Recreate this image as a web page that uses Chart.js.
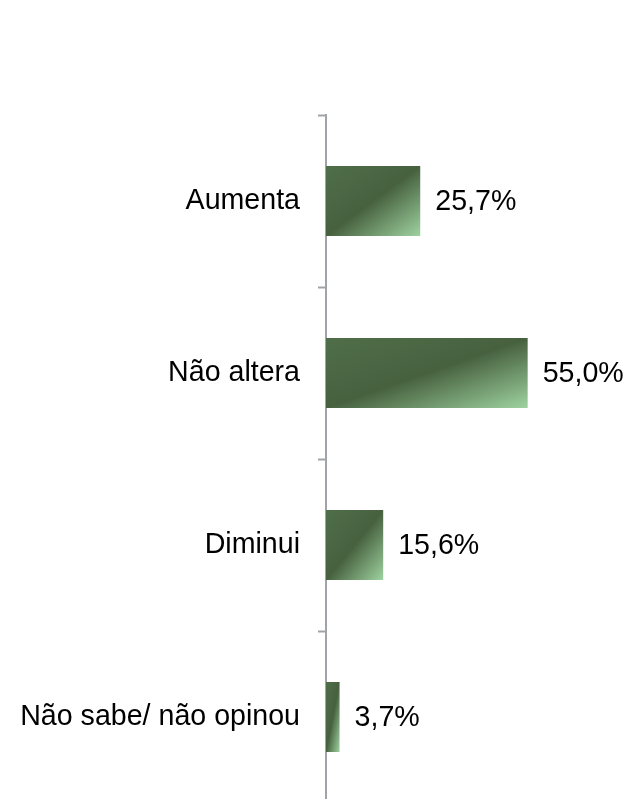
<!DOCTYPE html>
<html>
<head>
<meta charset="utf-8">
<script src="https://cdn.jsdelivr.net/npm/chart.js@4"></script>
<style>
  html, body { margin: 0; padding: 0; background: #fff; overflow: hidden; }
  #wrap { width: 628px; height: 803px; position: relative; }
</style>
</head>
<body>
<div id="wrap"><canvas id="opinionChart"></canvas></div>
<script>
const categories = ["Aumenta", "Não altera", "Diminui", "Não sabe/ não opinou"];
const percentages = [25.7, 55.0, 15.6, 3.7];
const xMin = 0;
const xMax = 60;

const FONT = "'Liberation Sans', Arial, sans-serif";
const BAR_PCT = 0.407;

// gradiente diagonal como no Excel (escuro em cima/esquerda, claro no canto inferior direito)
function barGradient(context) {
    const chart = context.chart;
    const xs = chart.scales.x, ys = chart.scales.y;
    if (!xs || !ys || !chart.chartArea) return "#4a6642";
    const i = context.dataIndex;
    const x0 = xs.getPixelForValue(0);
    const x1 = xs.getPixelForValue(percentages[i]);
    const h = ys.height / categories.length * BAR_PCT;
    const top = ys.getPixelForValue(i) - h / 2;
    const w = Math.max(x1 - x0, 1);
    const k = 2 * w * h / (w * w + h * h);
    const g = chart.ctx.createLinearGradient(x0, top, x0 + h * k, top + w * k);
    g.addColorStop(0, "#506e4a");
    g.addColorStop(0.5, "#47613f");
    g.addColorStop(1, "#9ed2a0");
    return g;
}

const valueLabels = {
    id: "valueLabels",
    afterDatasetsDraw(chart) {
        const ctx = chart.ctx;
        const meta = chart.getDatasetMeta(0);
        ctx.save();
        ctx.font = "28.6px " + FONT;
        ctx.fillStyle = "#000";
        ctx.textAlign = "left";
        ctx.textBaseline = "middle";
        meta.data.forEach(function(bar, i) {
            const txt = percentages[i].toFixed(1).replace(".", ",") + "%";
            ctx.fillText(txt, bar.x + 15, bar.y + 1);
        });
        ctx.restore();
    }
};

new Chart(document.getElementById("opinionChart"), {
    type: "bar",
    data: {
        labels: categories,
        datasets: [{
            data: percentages,
            backgroundColor: barGradient,
            borderWidth: 0,
            categoryPercentage: 1,
            barPercentage: BAR_PCT
        }]
    },
    plugins: [valueLabels],
    options: {
        indexAxis: "y",
        responsive: true,
        maintainAspectRatio: false,
        animation: false,
        layout: { padding: { top: 115, right: 82, bottom: 0, left: 0 } },
        plugins: {
            legend: { display: false },
            tooltip: { enabled: false }
        },
        scales: {
            x: { display: false, min: xMin, max: xMax },
            y: {
                afterFit(scale) {
                    scale.width = 326;
                    scale.paddingTop = 0;
                    scale.paddingBottom = 0;
                },
                grid: {
                    drawOnChartArea: false,
                    drawTicks: true,
                    tickLength: 8,
                    tickWidth: 2,
                    color: "#a0a4a8"
                },
                border: { display: true, color: "#a0a4a8", width: 2 },
                ticks: {
                    padding: 18,
                    color: "#000",
                    font: { family: FONT, size: 28.6 }
                }
            }
        }
    }
});
</script>
</body>
</html>
